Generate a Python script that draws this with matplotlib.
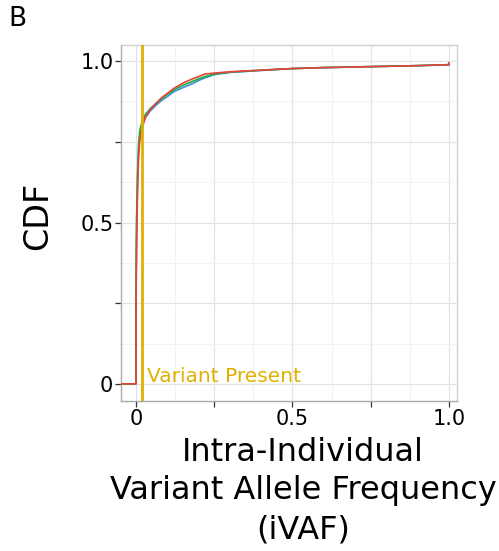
import matplotlib
matplotlib.use("Agg")
import matplotlib.pyplot as plt
from matplotlib.ticker import MultipleLocator, FixedLocator, FixedFormatter


# =========================
# DATA
# =========================

# ECDF breakpoints of iVAF for each group
red_x = [-0.05, 0.0, 0.0, 0.002, 0.005, 0.008, 0.012, 0.02, 0.03, 0.045, 0.06,
         0.08, 0.1, 0.12, 0.15, 0.18, 0.2, 0.22, 0.25, 0.3, 0.4, 0.5, 0.6,
         0.75, 0.9, 1.0, 1.0]
red_y = [0.0, 0.0, 0.25, 0.45, 0.6, 0.7, 0.755, 0.795, 0.825, 0.85, 0.865,
         0.885, 0.9, 0.915, 0.932, 0.945, 0.952, 0.96, 0.963, 0.967, 0.972,
         0.977, 0.98, 0.983, 0.986, 0.989, 0.995]

green_x = [-0.05, 0.0, 0.0, 0.002, 0.005, 0.008, 0.012, 0.02, 0.03, 0.045, 0.06,
           0.08, 0.1, 0.12, 0.15, 0.18, 0.2, 0.22, 0.25, 0.3, 0.4, 0.5, 0.6,
           0.75, 0.9, 1.0]
green_y = [0.0, 0.0, 0.3, 0.52, 0.66, 0.74, 0.785, 0.815, 0.835, 0.852, 0.866,
           0.882, 0.897, 0.91, 0.925, 0.937, 0.945, 0.952, 0.96, 0.966, 0.972,
           0.977, 0.98, 0.983, 0.986, 0.989]

blue_x = [-0.05, 0.0, 0.0, 0.002, 0.005, 0.008, 0.012, 0.02, 0.03, 0.045, 0.06,
          0.08, 0.1, 0.12, 0.15, 0.18, 0.2, 0.22, 0.25, 0.3, 0.4, 0.5, 0.6,
          0.75, 0.9, 1.0]
blue_y = [0.0, 0.0, 0.28, 0.5, 0.64, 0.72, 0.77, 0.8, 0.825, 0.845, 0.86,
          0.877, 0.89, 0.905, 0.918, 0.93, 0.94, 0.948, 0.958, 0.965, 0.971,
          0.977, 0.98, 0.983, 0.986, 0.989]

VARIANT_CUTOFF = 0.02

x_ticks = [0.0, 0.25, 0.5, 0.75, 1.0]
x_tick_labels = ["0", "", "0.5", "", "1.0"]
y_ticks = [0.0, 0.25, 0.5, 0.75, 1.0]
y_tick_labels = ["0", "", "0.5", "", "1.0"]


# =========================
# PLOT
# =========================

GOLD = "#E0B000"

fig = plt.figure(figsize=(4.99, 5.51), dpi=100)
ax = fig.add_axes([121 / 499, 1 - 401 / 551, 336 / 499, 356 / 551])

ax.plot(blue_x, blue_y, color="#3D8FE0", lw=1.2, zorder=3)
ax.plot(green_x, green_y, color="#1FAE3C", lw=1.2, zorder=4)
ax.plot(red_x, red_y, color="#E8413A", lw=1.2, zorder=5)

ax.axvline(VARIANT_CUTOFF, color=GOLD, lw=2, zorder=6)
ax.text(0.035, -0.005, "Variant Present", color=GOLD, fontsize=14.5,
        ha="left", va="bottom", zorder=7)

ax.set_xlim(-0.048, 1.026)
ax.set_ylim(-0.053, 1.05)

# grid: majors every 0.25, minors in between
ax.xaxis.set_major_locator(FixedLocator(x_ticks))
ax.xaxis.set_major_formatter(FixedFormatter(x_tick_labels))
ax.yaxis.set_major_locator(FixedLocator(y_ticks))
ax.yaxis.set_major_formatter(FixedFormatter(y_tick_labels))
ax.xaxis.set_minor_locator(MultipleLocator(0.125))
ax.yaxis.set_minor_locator(MultipleLocator(0.125))
ax.grid(which="major", color="#E3E3E3", lw=0.9)
ax.grid(which="minor", color="#F2F2F2", lw=0.7)
ax.set_axisbelow(True)

ax.tick_params(which="major", length=4, width=0.9, color="#333333",
               labelsize=15, pad=1.5)
ax.tick_params(which="minor", length=0)

for side in ["left", "bottom"]:
    ax.spines[side].set_color("#AAAAAA")
    ax.spines[side].set_linewidth(1.0)
for side in ["top", "right"]:
    ax.spines[side].set_color("#D0D0D0")
    ax.spines[side].set_linewidth(1.0)

fig.text(38 / 499, 1 - 216 / 551, "CDF", fontsize=24, rotation=90,
         ha="center", va="center")
fig.text(303 / 499, 1 - 491 / 551,
         "Intra-Individual\nVariant Allele Frequency\n(iVAF)",
         fontsize=23, ha="center", va="center", linespacing=1.32)

fig.text(8 / 499, 1 - 19 / 551, "B", fontsize=19, ha="left", va="center")

plt.savefig("out.png", dpi=100)
